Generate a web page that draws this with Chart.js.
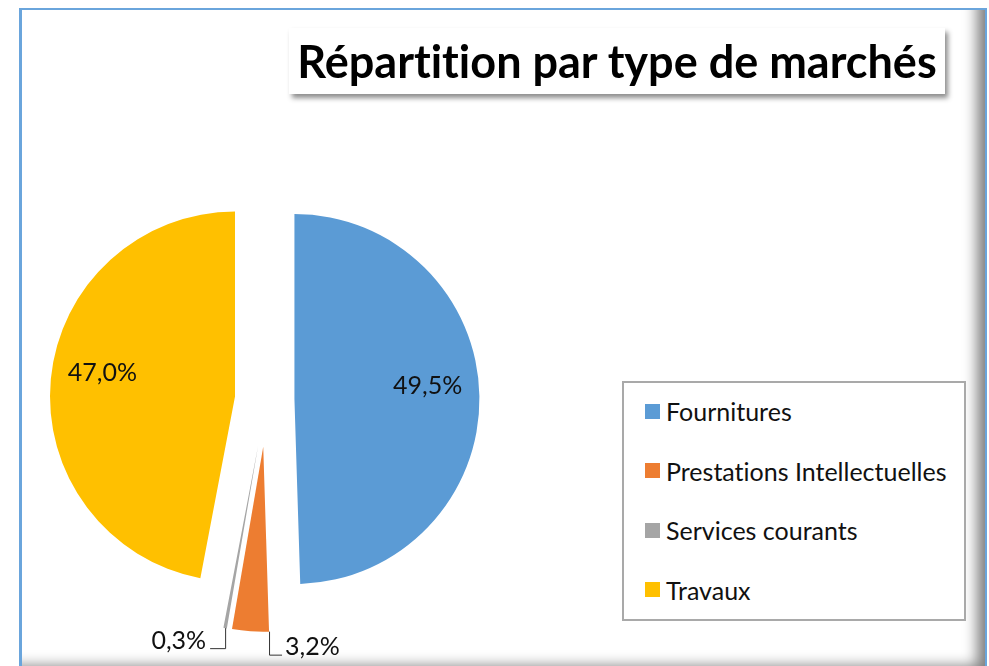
<!DOCTYPE html>
<html lang="fr">
<head>
<meta charset="utf-8">
<title>Répartition par type de marchés</title>
<script src="https://cdn.jsdelivr.net/npm/chart.js@4"></script>
<style>
  html, body { margin: 0; padding: 0; background: #fff; overflow: hidden; }
  #page { position: relative; width: 989px; height: 666px; font-family: Lato, "Open Sans", sans-serif;
          font-variant-ligatures: none; }
  #frame {
    position: absolute; left: 19px; top: 8px; width: 968px; height: 662px;
    box-sizing: border-box;
    border-left: 3px solid #6aa5dc; border-top: 2px solid #6aa5dc; border-right: 2px solid #6aa5dc;
    box-shadow: inset -16px -12px 14px -8px rgba(0, 0, 0, 0.5);
  }
  #wrap { position: absolute; left: 0; top: 0; width: 989px; height: 666px; }
  #titre {
    position: absolute; left: 289px; top: 28px; width: 656px; height: 66px;
    background: #fff; box-shadow: 3px 4px 5px rgba(0, 0, 0, 0.45);
    display: flex; align-items: center; justify-content: center;
    font-weight: bold; font-size: 45px; color: #000; white-space: nowrap;
  }
  #legende {
    position: absolute; left: 622px; top: 381px; width: 344px; height: 240px;
    box-sizing: border-box; border: 2px solid #a9a9a9; background: #fff;
  }
  .item { position: absolute; left: 21px; height: 30px; display: flex; align-items: center;
          font-size: 25px; color: #111; white-space: nowrap; }
  .item span { display: inline-block; width: 15px; height: 15px; margin-right: 6px; }
</style>
</head>
<body>
<div id="page">
  <div id="frame"></div>
  <div id="wrap"><canvas id="camembert"></canvas></div>
  <div id="titre">Répartition par type de marchés</div>
  <div id="legende"></div>
</div>
<script>
  // Données (parts en %)
  const categories = ["Fournitures", "Prestations Intellectuelles", "Services courants", "Travaux"];
  const parts = [49.5, 3.2, 0.3, 47.0];
  const couleurs = ["#5B9BD5", "#ED7D31", "#A5A5A5", "#FFC000"];

  const formatPct = (v) => v.toFixed(1).replace(".", ",") + "%";

  // Éclatement des parts, en fraction du rayon
  const eclatement = {
    id: "eclatement",
    afterDatasetsUpdate(chart, args, opts) {
      const meta = chart.getDatasetMeta(0);
      meta.data.forEach((arc, i) => {
        const d = (opts.parts[i] || 0) * arc.outerRadius;
        const mid = (arc.startAngle + arc.endAngle) / 2;
        arc.x += Math.cos(mid) * d;
        arc.y += Math.sin(mid) * d;
      });
    },
  };

  // Étiquettes de pourcentage, avec lignes de repère pour les petites parts
  const etiquettes = {
    id: "etiquettes",
    afterDatasetsDraw(chart, args, opts) {
      const ctx = chart.ctx;
      const meta = chart.getDatasetMeta(0);
      ctx.save();
      ctx.font = opts.font;
      ctx.fillStyle = opts.color;
      ctx.strokeStyle = opts.lineColor;
      ctx.lineWidth = 1;
      ctx.textBaseline = "middle";
      meta.data.forEach((arc, i) => {
        const txt = formatPct(parts[i]);
        const mid = (arc.startAngle + arc.endAngle) / 2;
        const rep = opts.reperes[i];
        if (!rep) {
          const r = arc.outerRadius * opts.inside;
          ctx.textAlign = "center";
          ctx.fillText(txt, arc.x + Math.cos(mid) * r, arc.y + Math.sin(mid) * r + opts.lift);
          return;
        }
        const a = rep.bord === "debut" ? arc.startAngle : mid;
        const x0 = arc.x + Math.cos(a) * arc.outerRadius;
        const y0 = arc.y + Math.sin(a) * arc.outerRadius;
        const y1 = y0 + rep.chute;
        const x2 = x0 + rep.course;
        ctx.beginPath();
        ctx.moveTo(x0 + 0.5, y0);
        ctx.lineTo(x0 + 0.5, y1 + 0.5);
        ctx.lineTo(x2, y1 + 0.5);
        ctx.stroke();
        const gauche = rep.course < 0;
        ctx.textAlign = gauche ? "right" : "left";
        ctx.fillText(txt, x2 + (gauche ? -4 : 3), y1 - rep.montee);
      });
      ctx.restore();
    },
  };

  new Chart(document.getElementById("camembert").getContext("2d"), {
    type: "pie",
    data: {
      labels: categories,
      datasets: [
        {
          data: parts,
          backgroundColor: couleurs,
          borderWidth: 0,
          clip: false,
        },
      ],
    },
    options: {
      responsive: true,
      maintainAspectRatio: false,
      animation: false,
      radius: 185,
      layout: { padding: { left: 0, right: 456, top: 133, bottom: 0 } },
      plugins: {
        legend: { display: false },
        title: { display: false },
        tooltip: {
          callbacks: { label: (c) => `${c.label}: ${formatPct(c.raw)}` },
        },
        eclatement: { parts: [0.151, 0.256, 0.256, 0.171] },
        etiquettes: {
          font: "25px Lato, 'Open Sans', sans-serif",
          color: "#111",
          lineColor: "#333",
          inside: 0.72,
          lift: -11,
          reperes: [
            null,
            { bord: "debut", chute: 23, course: 13, montee: 8 },
            { bord: "milieu", chute: 20, course: -15, montee: 7 },
            null,
          ],
        },
      },
    },
    plugins: [eclatement, etiquettes],
  });

  // Légende HTML construite à partir des mêmes tableaux
  const legende = document.getElementById("legende");
  categories.forEach((nom, i) => {
    const el = document.createElement("div");
    el.className = "item";
    el.style.top = 13 + i * 59.5 + "px";
    el.innerHTML = `<span style="background:${couleurs[i]}"></span>${nom}`;
    legende.appendChild(el);
  });
</script>
</body>
</html>
